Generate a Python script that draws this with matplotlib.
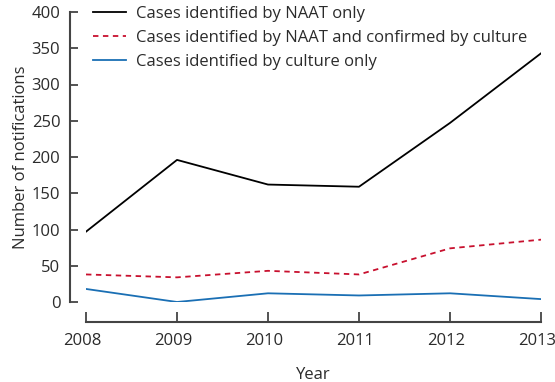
import matplotlib
matplotlib.use("Agg")
import matplotlib.pyplot as plt
from matplotlib.transforms import ScaledTranslation

years = [2008, 2009, 2010, 2011, 2012, 2013]
naat_only = [97, 196, 162, 159, 247, 343]
naat_culture = [38, 34, 43, 38, 74, 86]
culture_only = [18, 0, 12, 9, 12, 4]

labels = [
    "Cases identified by NAAT only",
    "Cases identified by NAAT and confirmed by culture",
    "Cases identified by culture only",
]
y_ticks = [0, 50, 100, 150, 200, 250, 300, 350, 400]

plt.rcParams["font.family"] = ["Open Sans", "DejaVu Sans"]
text_color = "#2b2b2b"
axis_color = "#444444"
fs = 12

W, H = 555, 382
fig = plt.figure(figsize=(W / 100, H / 100), dpi=100)
ax = fig.add_axes([86 / W, (H - 302) / H, (541 - 86) / W, (302 - 12) / H])

ax.plot(years, naat_only, color="black", lw=1.3, label=labels[0])
ax.plot(years, naat_culture, color="#c8102e", lw=1.3, ls=(0, (3, 2.5)), label=labels[1])
ax.plot(years, culture_only, color="#1a6fb4", lw=1.3, label=labels[2])

ax.set_xlim(2008, 2013)
ax.set_ylim(0, 400)
ax.set_xticks(years)
ax.set_yticks(y_ticks)

for s in ["top", "right"]:
    ax.spines[s].set_visible(False)
ax.spines["left"].set_position(("outward", 11.5))
ax.spines["bottom"].set_position(("outward", 14.4))
ax.spines["left"].set_bounds(0, 400)
ax.spines["bottom"].set_bounds(2008, 2013)
for s in ["left", "bottom"]:
    ax.spines[s].set_color(axis_color)
    ax.spines[s].set_linewidth(1.5)

ax.tick_params(axis="both", direction="in", colors=axis_color, width=1.3,
               labelsize=fs, labelcolor=text_color)
ax.tick_params(axis="y", length=6, pad=7)
ax.tick_params(axis="x", length=7, pad=8)

# x labels sit a bit left of their ticks in the original
shift = ScaledTranslation(-4 / 100, 0, fig.dpi_scale_trans)
for lbl in ax.get_xticklabels():
    lbl.set_transform(lbl.get_transform() + shift)

ax.set_xlabel("Year", fontsize=fs, color=text_color, labelpad=13)
ax.set_ylabel("Number of notifications", fontsize=fs, color=text_color, labelpad=1.5)

leg = ax.legend(loc="upper left", bbox_to_anchor=(0.0, 1.045), frameon=False,
                fontsize=fs, handlelength=2.0, handletextpad=0.6,
                labelspacing=0.5, borderaxespad=0)
for t in leg.get_texts():
    t.set_color(text_color)

fig.savefig("out.png", dpi=100)
